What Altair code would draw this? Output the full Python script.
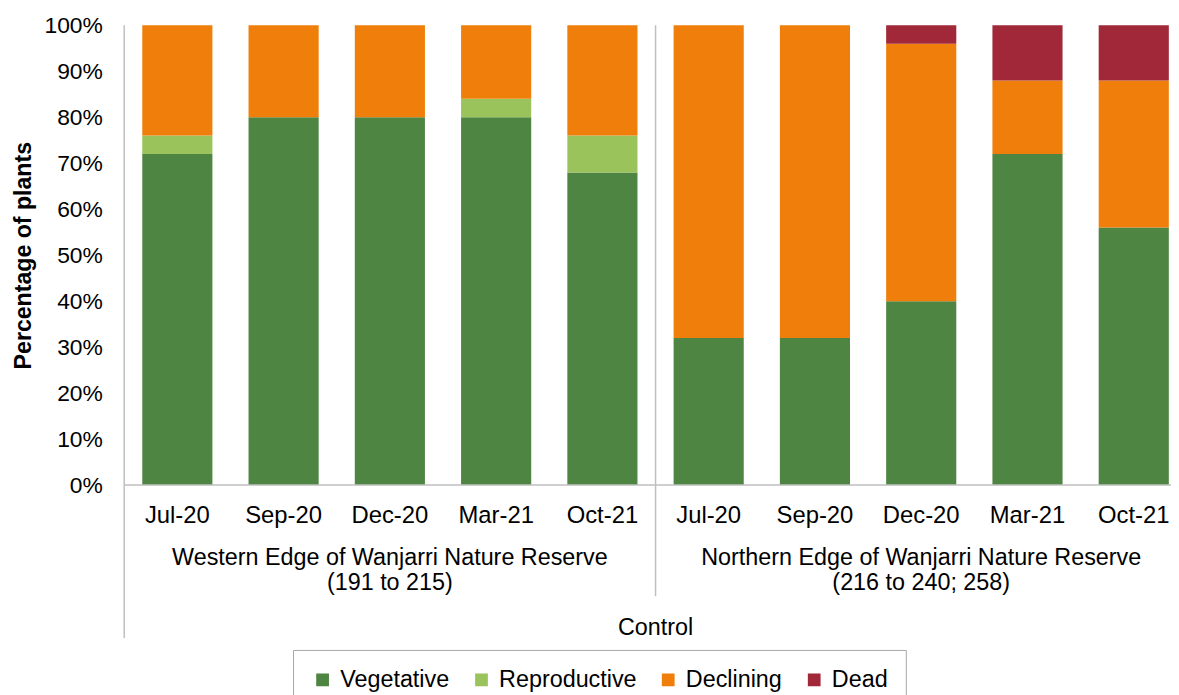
import altair as alt
import pandas as pd

months = ["Jul-20", "Sep-20", "Dec-20", "Mar-21", "Oct-21"]
sites = ["Western Edge of Wanjarri Nature Reserve", "Northern Edge of Wanjarri Nature Reserve"]
site_codes = ["(191 to 215)", "(216 to 240; 258)"]
treatment = ["Control"]
stages = ["Vegetative", "Reproductive", "Declining", "Dead"]
colors = ["#4E8542", "#9BC35B", "#EF7F0A", "#A02838"]
vegetative = [72, 80, 80, 80, 68, 32, 32, 40, 72, 56]
reproductive = [4, 0, 0, 4, 8, 0, 0, 0, 0, 0]
declining = [24, 20, 20, 16, 24, 68, 68, 56, 16, 32]
dead = [0, 0, 0, 0, 0, 0, 0, 4, 12, 12]
y_ticks = [0, 10, 20, 30, 40, 50, 60, 70, 80, 90, 100]

FONT = "Liberation Sans"
GRAY = "#BFBFBF"
FS = 23.5

keys = []
rows = []
lab_rows = []
series = [vegetative, reproductive, declining, dead]
for i in range(10):
    s = i // 5
    m = months[i % 5]
    key = f"{s}|{m}"
    keys.append(key)
    lab_rows.append({"key": key, "month": m})
    for j, st in enumerate(stages):
        rows.append({"key": key, "stage": st, "order": j, "value": series[j][i]})
df = pd.DataFrame(rows)
df_lab = pd.DataFrame(lab_rows)
df_grp = pd.DataFrame({"key": [keys[2], keys[7]], "site": sites, "code": site_codes})
df_one = pd.DataFrame({"t": treatment})

W, H = 1054, 463
XR = 1070  # band range extends slightly past the visible page edge, as in the reference

xscale = alt.Scale(domain=keys, range=[0, XR], paddingInner=0.34, paddingOuter=0.17)
X = alt.X("key:N", sort=keys, scale=xscale, axis=None)

bars = alt.Chart(df).mark_bar().encode(
    x=X,
    y=alt.Y("value:Q", stack="zero",
            scale=alt.Scale(domain=[0, 100], nice=False),
            axis=alt.Axis(values=y_ticks, labelExpr="datum.value + '%'",
                          labelFont=FONT, labelFontSize=23, labelColor="#000",
                          ticks=False, domain=False, grid=False, labelPadding=22,
                          labelFlush=False, labelOverlap=False,
                          title="Percentage of plants", titleFont=FONT,
                          titleFontSize=23.3, titleFontWeight="bold",
                          titleColor="#000", titlePadding=9)),
    color=alt.Color("stage:N", sort=stages,
                    scale=alt.Scale(domain=stages, range=colors),
                    legend=alt.Legend(orient="none", legendX=170, legendY=629,
                                      direction="horizontal", title=None,
                                      symbolType="square", symbolSize=165,
                                      symbolStrokeWidth=0, gridAlign="each",
                                      labelFont=FONT, labelFontSize=FS,
                                      labelColor="#000", labelOffset=6,
                                      columnPadding=20, padding=18,
                                      strokeColor="#A6A6A6")),
    order=alt.Order("order:Q"),
)

txt = dict(font=FONT, color="#000", baseline="middle", align="center")

month_labels = alt.Chart(df_lab).mark_text(fontSize=24, **txt).encode(
    x=X, y=alt.value(494), text="month:N")

grp1 = alt.Chart(df_grp).mark_text(fontSize=FS, **txt).encode(
    x=X, y=alt.value(536), text="site:N")
grp2 = alt.Chart(df_grp).mark_text(fontSize=FS, **txt).encode(
    x=X, y=alt.value(562), text="code:N")

ctrl = alt.Chart(df_one).mark_text(fontSize=FS, **txt).encode(
    x=alt.value(XR / 2), y=alt.value(607), text="t:N")

sep = alt.Chart(df_one).mark_rule(color=GRAY, strokeWidth=1.5).encode(
    x=alt.value(XR / 2), y=alt.value(0), y2=alt.value(575))
left = alt.Chart(df_one).mark_rule(color=GRAY, strokeWidth=1.5).encode(
    x=alt.value(0), y=alt.value(0), y2=alt.value(617))
base = alt.Chart(df_one).mark_rule(color=GRAY, strokeWidth=1.5).encode(
    x=alt.value(0), x2=alt.value(XR), y=alt.value(H))

chart = alt.layer(bars, sep, left, base, month_labels, grp1, grp2, ctrl).properties(
    width=W, height=H,
    autosize=alt.AutoSizeParams(type="none"),
    padding={"left": 117, "top": 15, "right": 0, "bottom": 209},
).configure_view(stroke=None)

chart.save("out.html", embed_options={"renderer": "svg", "actions": False})
